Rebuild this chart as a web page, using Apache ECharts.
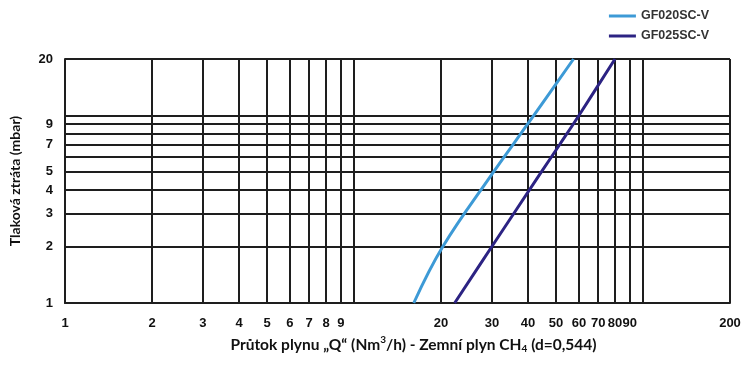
<!DOCTYPE html>
<html>
<head>
<meta charset="utf-8">
<script src="https://cdn.jsdelivr.net/npm/echarts@6/dist/echarts.min.js"></script>
<style>
html,body{margin:0;padding:0;background:#fff;}
#chart{width:750px;height:367px;}
</style>
</head>
<body>
<div id="chart"></div>
<script>
// ---- data ----
var seriesNames = ['GF020SC-V', 'GF025SC-V'];
var pressureGF020 = [1, 2, 5, 7, 10, 20];                 // mbar (y)
var flowGF020 = [16.1, 20.3, 30.4, 35.5, 41.9, 57.5];     // Nm3/h (x)
var pressureGF025 = [1, 2, 5, 7, 10, 20];
var flowGF025 = [22.3, 30.0, 44.5, 51.5, 60.0, 80.0];
var xGridValues = [1, 2, 3, 4, 5, 6, 7, 8, 9, 10, 20, 30, 40, 50, 60, 70, 80, 90, 100, 200];
var xLabelValues = [1, 2, 3, 4, 5, 6, 7, 8, 9, 20, 30, 40, 50, 60, 70, 80, 90, 200];
var yGridValues = [1, 2, 3, 4, 5, 6, 7, 8, 9, 10, 20];
var yLabelValues = [1, 2, 3, 4, 5, 7, 9, 20];

function pairs(xs, ys) { return xs.map(function (x, i) { return [x, ys[i]]; }); }

var gridColor = '#1e1e1e';
var labelFont = { color: '#111', fontFamily: 'Liberation Sans', fontWeight: 'bold', fontSize: 13 };
var titleFont = { fontFamily: 'Lato', fontWeight: 'bold', color: '#111' };

var chart = echarts.init(document.getElementById('chart'), null, { renderer: 'canvas' });
chart.setOption({
  animation: false,
  backgroundColor: '#fff',
  legend: {
    orient: 'vertical',
    right: 36,
    top: 4,
    icon: 'rect',
    itemWidth: 27,
    itemHeight: 3,
    itemGap: 6,
    textStyle: { color: '#333', fontFamily: 'Liberation Sans', fontWeight: 'bold', fontSize: 12.5, lineHeight: 14 },
    data: seriesNames
  },
  grid: { left: 65, right: 20, top: 59, bottom: 64, containLabel: false },
  xAxis: {
    type: 'log', logBase: 10, min: 1, max: 200,
    name: '{a|Průtok plynu „Q“ (Nm}{sup|3}{a|/h) - Zemní plyn CH}{sub|4}{a| (d=0,544)}',
    nameLocation: 'middle', nameGap: 32,
    nameTextStyle: {
      padding: [0, 0, 0, 32],
      rich: {
        a: Object.assign({ fontSize: 15.5, lineHeight: 19 }, titleFont),
        sup: Object.assign({ fontSize: 10, verticalAlign: 'top', lineHeight: 19, padding: [0, 0, 8, 0] }, titleFont),
        sub: Object.assign({ fontSize: 10, verticalAlign: 'bottom', lineHeight: 19, padding: [5, 0, 0, 0] }, titleFont)
      }
    },
    axisLine: { show: true, lineStyle: { color: gridColor, width: 2 } },
    axisTick: { show: false, customValues: xGridValues },
    axisLabel: Object.assign({ customValues: xLabelValues, margin: 14, hideOverlap: false,
      formatter: function (v) { return String(Math.round(v)); } }, labelFont),
    splitLine: { show: true, lineStyle: { color: gridColor, width: 2 } }
  },
  yAxis: {
    type: 'log', logBase: 10, min: 1, max: 20,
    name: 'Tlaková ztráta (mbar)',
    nameLocation: 'middle', nameGap: 43,
    nameTextStyle: Object.assign({ fontSize: 14 }, titleFont),
    axisLine: { show: true, lineStyle: { color: gridColor, width: 2 } },
    axisTick: { show: false, customValues: yGridValues },
    axisLabel: Object.assign({ customValues: yLabelValues, margin: 12, hideOverlap: false,
      formatter: function (v) { return String(Math.round(v)); } }, labelFont),
    splitLine: { show: true, lineStyle: { color: gridColor, width: 2 } }
  },
  series: [
    {
      name: seriesNames[0], type: 'line', symbol: 'none', smooth: 0.4,
      lineStyle: { color: '#3d9ad6', width: 3 }, itemStyle: { color: '#3d9ad6' },
      data: pairs(flowGF020, pressureGF020), z: 5
    },
    {
      name: seriesNames[1], type: 'line', symbol: 'none', smooth: 0.4,
      lineStyle: { color: '#2c2383', width: 3 }, itemStyle: { color: '#2c2383' },
      data: pairs(flowGF025, pressureGF025), z: 5
    }
  ]
});
</script>
</body>
</html>
